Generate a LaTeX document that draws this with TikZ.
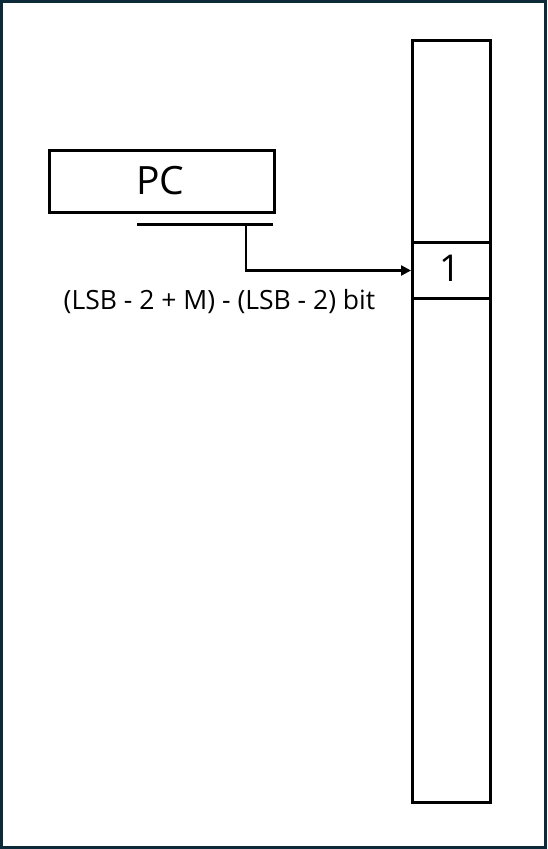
\documentclass[tikz,border=0pt]{standalone}
\usepackage{fontspec}
\setmainfont{Open Sans}
\usetikzlibrary{arrows.meta}
\definecolor{frame}{HTML}{0C2A38}
\begin{document}
\begin{tikzpicture}[x=1pt,y=-1pt,
  boxst/.style={draw=black,line width=3pt},
  conn/.style={draw=black,line width=2.4pt}]
\useasboundingbox (0,0) rectangle (547,849);
\draw[frame,line width=3pt] (1.5,1.5) rectangle (545.5,847.5);
% PC box
\node[boxst,minimum width=225pt,minimum height=62pt,inner sep=0pt,anchor=north west] (pc) at (48,149) {};
\node[font=\fontsize{39}{44}\selectfont] (pclabel) at (160.5,181) {PC};
% bar below PC
\coordinate (barL) at (137,224);
\coordinate (barR) at (273,224);
\draw[conn,line width=3pt] (barL) -- (barR);
\coordinate (tap) at (246,224);
% tall memory column
\node[boxst,minimum width=78pt,minimum height=762pt,inner sep=0pt,anchor=north west] (mem) at (411,39) {};
\node[boxst,minimum width=78pt,minimum height=56pt,inner sep=0pt,anchor=north west] (cell) at (411,241) {};
\node[font=\fontsize{37}{42}\selectfont] (one) at (450,268) {1};
% connector
\draw[conn,-{Triangle[length=10pt,width=10pt]}] (tap) |- (cell.west);
\node[font=\fontsize{26.5}{30}\selectfont] (lbl) at (219.5,302) {(LSB - 2 + M) - (LSB - 2) bit};
\end{tikzpicture}
\end{document}
